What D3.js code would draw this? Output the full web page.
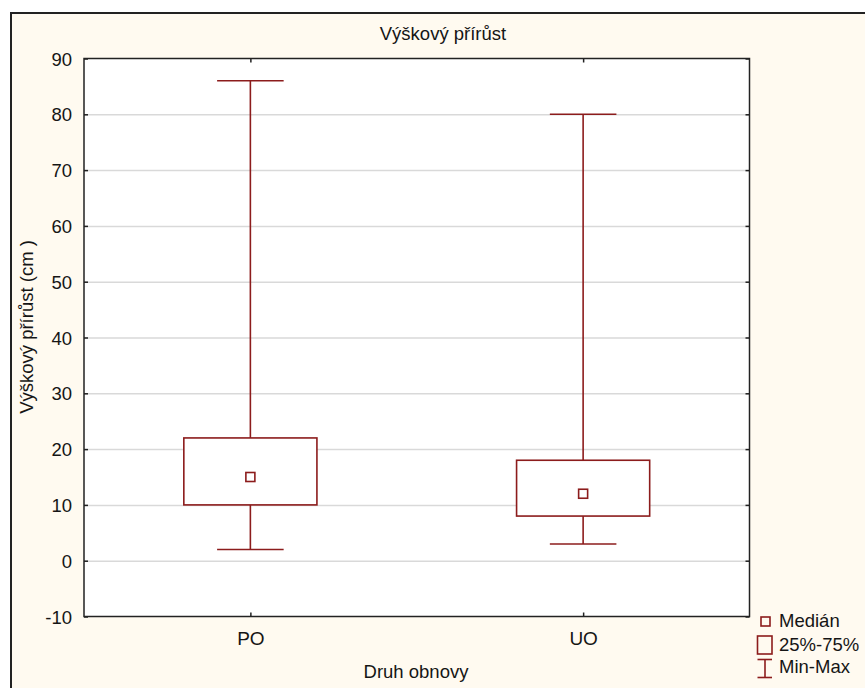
<!DOCTYPE html>
<html>
<head>
<meta charset="utf-8">
<script src="https://cdn.jsdelivr.net/npm/d3@7"></script>
<style>
  html, body { margin: 0; padding: 0; background: #ffffff; }
  svg { display: block; }
  text { font-family: "Liberation Sans", Arial, sans-serif; fill: #151515; }
</style>
</head>
<body>
<svg id="chart" width="865" height="688"></svg>
<script>
// ---- data ----
const categories = ["PO", "UO"];
const minValues    = [2, 3];
const q1Values     = [10, 8];
const medianValues = [15, 12];
const q3Values     = [22, 18];
const maxValues    = [86, 80];
const yTicks = [-10, 0, 10, 20, 30, 40, 50, 60, 70, 80, 90];
const legendLabels = ["Medián", "25%-75%", "Min-Max"];
const titleText = "Výškový přírůst";
const xLabelText = "Druh obnovy";
const yLabelText = "Výškový přírůst (cm )";

const boxColor = "#8c1c1c";
const svg = d3.select("#chart");

// outer panel
svg.append("rect").attr("x", 11).attr("y", 13).attr("width", 900).attr("height", 700)
  .attr("fill", "#fffaf0").attr("stroke", "#222").attr("stroke-width", 2);

const L = 84, R = 749.5, T = 58.5, B = 616.5;
const y = d3.scaleLinear().domain([-10, 90]).range([B, T]);
const x = d3.scalePoint().domain(categories).range([L, R]).padding(0.5);
const step = x.step();

// plot background
svg.append("rect").attr("x", L).attr("y", T).attr("width", R - L).attr("height", B - T).attr("fill", "#fff");

// gridlines
const grid = svg.append("g").attr("transform", `translate(${L},0)`)
  .call(d3.axisLeft(y).tickValues(yTicks.filter(v => v > -10 && v < 90)).tickSize(-(R - L)).tickFormat(""));
grid.select(".domain").remove();
grid.selectAll("line").attr("stroke", "#d9d9d9").attr("stroke-width", 1.5);

// left axis
const ya = svg.append("g").attr("transform", `translate(${L},0)`)
  .call(d3.axisLeft(y).tickValues(yTicks).tickSize(-4).tickPadding(12).tickFormat(d => String(d)));
ya.select(".domain").remove();
ya.selectAll("line").attr("stroke", "#222").attr("stroke-width", 1.5);
ya.selectAll("text").attr("font-size", 18.5).attr("font-family", "Liberation Sans, Arial, sans-serif").attr("fill", "#151515").attr("dy", "0.36em");

// right axis ticks
const yr = svg.append("g").attr("transform", `translate(${R},0)`)
  .call(d3.axisRight(y).tickValues(yTicks).tickSize(-4).tickFormat(""));
yr.select(".domain").remove();
yr.selectAll("line").attr("stroke", "#222").attr("stroke-width", 1.5);

// bottom axis
const xa = svg.append("g").attr("transform", `translate(0,${B})`)
  .call(d3.axisBottom(x).tickSize(-4).tickPadding(15));
xa.select(".domain").remove();
xa.selectAll("line").attr("stroke", "#222").attr("stroke-width", 1.5);
xa.selectAll("text").attr("font-size", 19).attr("font-family", "Liberation Sans, Arial, sans-serif").attr("fill", "#151515");

// top axis ticks
const xt = svg.append("g").attr("transform", `translate(0,${T})`)
  .call(d3.axisTop(x).tickSize(-4).tickFormat(""));
xt.select(".domain").remove();
xt.selectAll("line").attr("stroke", "#222").attr("stroke-width", 1.5);

// plot frame
svg.append("rect").attr("x", L).attr("y", T).attr("width", R - L).attr("height", B - T)
  .attr("fill", "none").attr("stroke", "#222").attr("stroke-width", 1.5);

// boxes
const boxW = step * 0.4, capW = step * 0.2;
const g = svg.append("g").attr("stroke", boxColor).attr("stroke-width", 1.6).attr("fill", "none");
categories.forEach((c, i) => {
  const cx = x(c);
  g.append("line").attr("x1", cx).attr("x2", cx).attr("y1", y(maxValues[i])).attr("y2", y(q3Values[i]));
  g.append("line").attr("x1", cx).attr("x2", cx).attr("y1", y(q1Values[i])).attr("y2", y(minValues[i]));
  g.append("line").attr("x1", cx - capW / 2).attr("x2", cx + capW / 2).attr("y1", y(maxValues[i])).attr("y2", y(maxValues[i]));
  g.append("line").attr("x1", cx - capW / 2).attr("x2", cx + capW / 2).attr("y1", y(minValues[i])).attr("y2", y(minValues[i]));
  g.append("rect").attr("x", cx - boxW / 2).attr("y", y(q3Values[i]))
    .attr("width", boxW).attr("height", y(q1Values[i]) - y(q3Values[i])).attr("fill", "#fff");
  g.append("rect").attr("x", cx - 4.5).attr("y", y(medianValues[i]) - 4.5).attr("width", 9).attr("height", 9).attr("fill", "#fff");
});

// title and axis labels
svg.append("text").attr("x", 443).attr("y", 40).attr("text-anchor", "middle").attr("font-size", 18.5).text(titleText);
svg.append("text").attr("x", 416).attr("y", 678).attr("text-anchor", "middle").attr("font-size", 18.5).text(xLabelText);
svg.append("text").attr("transform", "translate(33,327) rotate(-90)").attr("text-anchor", "middle").attr("font-size", 18.5).text(yLabelText);

// legend
const lg = svg.append("g");
lg.append("rect").attr("x", 761).attr("y", 617).attr("width", 9).attr("height", 9)
  .attr("fill", "none").attr("stroke", boxColor).attr("stroke-width", 1.6);
lg.append("rect").attr("x", 757.5).attr("y", 636).attr("width", 14.5).attr("height", 18)
  .attr("fill", "none").attr("stroke", boxColor).attr("stroke-width", 1.6);
lg.append("line").attr("x1", 757.5).attr("x2", 772).attr("y1", 659.5).attr("y2", 659.5).attr("stroke", boxColor).attr("stroke-width", 1.6);
lg.append("line").attr("x1", 757.5).attr("x2", 772).attr("y1", 677.5).attr("y2", 677.5).attr("stroke", boxColor).attr("stroke-width", 1.6);
lg.append("line").attr("x1", 765).attr("x2", 765).attr("y1", 659.5).attr("y2", 677.5).attr("stroke", boxColor).attr("stroke-width", 1.6);
const legendY = [627, 651, 673];
legendLabels.forEach((t, i) => {
  lg.append("text").attr("x", 779).attr("y", legendY[i]).attr("font-size", 18.5).text(t);
});
</script>
</body>
</html>
